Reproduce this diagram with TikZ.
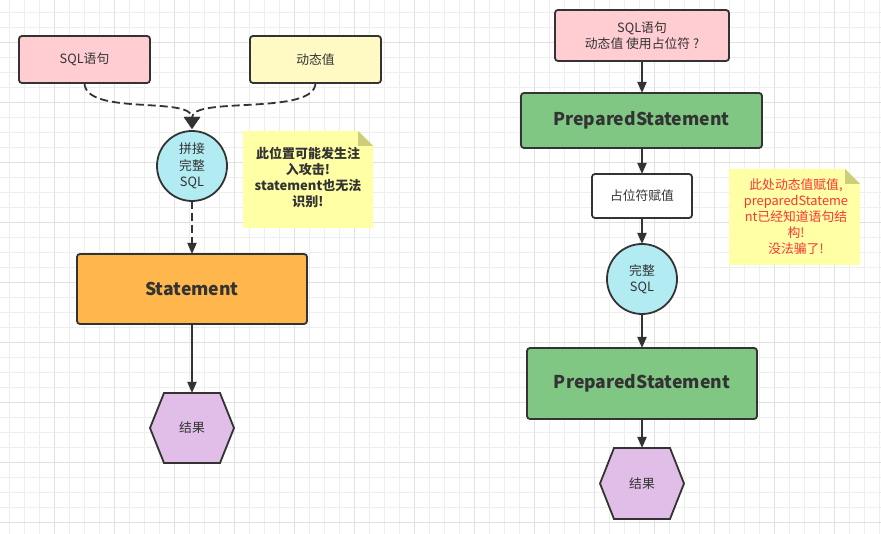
\documentclass[tikz,border=0pt]{standalone}
\usepackage{fontspec}
\setmainfont{Noto Sans CJK SC}
\usetikzlibrary{arrows.meta}
\definecolor{gminor}{RGB}{238,238,238}
\definecolor{gmajor}{RGB}{225,225,225}
\definecolor{ink}{RGB}{51,51,51}
\definecolor{cpink}{RGB}{255,205,210}
\definecolor{cyel}{RGB}{255,249,196}
\definecolor{corange}{RGB}{255,183,77}
\definecolor{cgreen}{RGB}{129,199,132}
\definecolor{ccyan}{RGB}{178,235,242}
\definecolor{cpurple}{RGB}{225,190,231}
\definecolor{cnote}{RGB}{255,255,166}
\definecolor{cfold}{RGB}{205,205,122}
\definecolor{cred}{RGB}{255,51,51}
\tikzset{
  base/.style={draw=ink, line width=1.8pt, text=ink, inner sep=0pt, outer sep=0pt, align=center,
    font=\fontsize{12.8}{16.5}\selectfont},
  box/.style={base, rectangle, rounded corners=3pt},
  circ/.style={base, circle, fill=ccyan, minimum size=70pt},
  big/.style={font=\fontsize{17.6}{20}\selectfont\bfseries},
  hexnode/.style={inner sep=0pt, outer sep=0pt, minimum width=84pt, minimum height=70pt, text=ink,
    font=\fontsize{12.8}{16.5}\selectfont},
  hexline/.style={draw=ink, line width=1.8pt, fill=cpurple, line join=miter},
  conn/.style={draw=ink, line width=1.8pt, -{Triangle[length=11pt,width=9pt]}},
  dconn/.style={conn, dash pattern=on 8pt off 4pt},
  notetext/.style={inner sep=0pt, align=center, font=\fontsize{13}{16}\selectfont},
}
\begin{document}
\begin{tikzpicture}[x=1pt,y=-1pt]
\fill[white] (0,0) rectangle (881,534);
\useasboundingbox (0,0) rectangle (881,534);
% grid
\foreach \x in {9,24,...,879} \draw[gminor, line width=0.8pt] (\x,0) -- (\x,534);
\foreach \y in {12,27,...,532} \draw[gminor, line width=0.8pt] (0,\y) -- (881,\y);
\foreach \x in {54,114,...,834} \draw[gmajor, line width=0.8pt] (\x,0) -- (\x,534);
\foreach \y in {42,102,...,522} \draw[gmajor, line width=0.8pt] (0,\y) -- (881,\y);

% ---------- left ----------
\node[box, fill=cpink, minimum width=131pt, minimum height=47pt] (sql1) at (84.5,59.5) {SQL语句};
\node[box, fill=cyel, minimum width=131pt, minimum height=47pt] (dyn) at (315.5,59.5) {动态值};
\node[circ] (c1) at (192,166) {拼接\\完整\\SQL};
\node[box, fill=corange, minimum width=230pt, minimum height=70pt, big] (stmt) at (192,289) {Statement};
\node[hexnode] (res1) at (192,428) {};
\draw[hexline] ([xshift=14pt]res1.north west) -- ([xshift=-14pt]res1.north east) -- (res1.east)
  -- ([xshift=-14pt]res1.south east) -- ([xshift=14pt]res1.south west) -- (res1.west) -- cycle;
\node[hexnode] at (res1) {结果};

\coordinate (m1) at (192,129);
\draw[dconn, -{Triangle[length=12pt,width=16pt]}] (sql1.south) .. controls (85,116) and (192,96) .. (m1);
\draw[dconn, -{Triangle[length=12pt,width=16pt]}] (dyn.south) .. controls (315,116) and (192,96) .. (m1);
\draw[dconn] (c1.south) -- (stmt.north);
\draw[conn] (stmt.south) -- (res1.north);

% note 1
\fill[cnote] (243,131) -- (358,131) -- (373,146) -- (373,228) -- (243,228) -- cycle;
\fill[cfold] (358,131) -- (373,146) -- (358,146) -- cycle;
\node[notetext, text=ink, font=\fontsize{13}{16}\selectfont\bfseries] (n1) at (308,177)
  {此位置可能发生注\\入攻击!\\statement也无法\\识别!};

% ---------- right ----------
\node[box, fill=cpink, minimum width=174pt, minimum height=51pt] (top) at (642,35.5) {SQL语句\\动态值 使用占位符 ?};
\node[box, fill=cgreen, minimum width=241pt, minimum height=55pt, big] (ps1) at (641.5,120.5) {PreparedStatement};
\node[box, fill=white, minimum width=100pt, minimum height=44pt] (ph) at (642,196) {占位符赋值};
\node[circ] (c2) at (642,279) {完整\\SQL};
\node[box, fill=cgreen, minimum width=230pt, minimum height=71pt, big] (ps2) at (642,383.5) {PreparedStatement};
\node[hexnode, minimum height=71pt] (res2) at (642,483.5) {};
\draw[hexline] ([xshift=14pt]res2.north west) -- ([xshift=-14pt]res2.north east) -- (res2.east)
  -- ([xshift=-14pt]res2.south east) -- ([xshift=14pt]res2.south west) -- (res2.west) -- cycle;
\node[hexnode] at (res2) {结果};

\draw[conn] (top.south) -- (top.south |- ps1.north);
\draw[conn] (ps1.south -| ph.north) -- (ph.north);
\draw[conn] (ph.south) -- (c2.north);
\draw[conn] (c2.south) -- (ps2.north);
\draw[conn] (ps2.south) -- (res2.north);

% note 2
\fill[cnote] (729,169) -- (845,169) -- (860,184) -- (860,265) -- (729,265) -- cycle;
\fill[cfold] (845,169) -- (860,184) -- (845,184) -- cycle;
\node[notetext, text=cred, font=\fontsize{12.8}{16}\selectfont] (n2) at (796,217)
  {此处动态值赋值,\\preparedStateme\\nt已经知道语句结\\构!\\没法骗了!};
\end{tikzpicture}
\end{document}
